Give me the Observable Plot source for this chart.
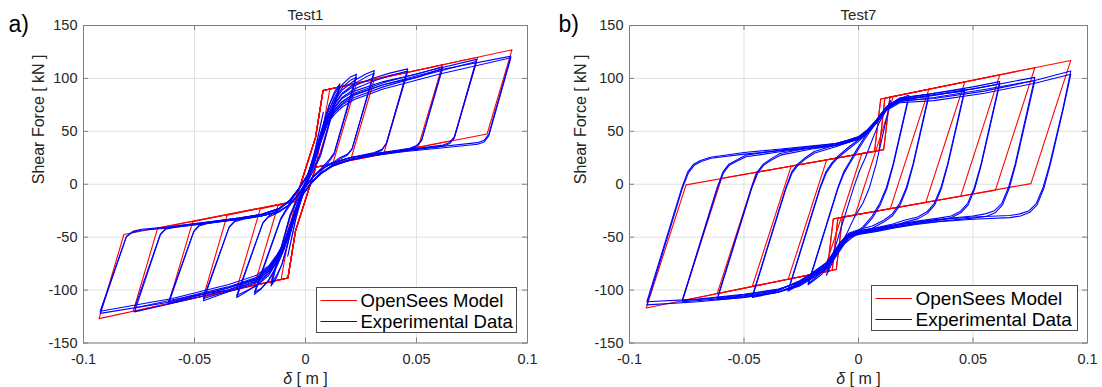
<!DOCTYPE html>
<html>
<head>
<meta charset="utf-8">
<script src="https://cdn.jsdelivr.net/npm/d3@7"></script>
<script src="https://cdn.jsdelivr.net/npm/@observablehq/plot@0.6"></script>
<style>
html, body { margin: 0; padding: 0; background: #fff; }
#chart { position: relative; width: 1102px; height: 387px; overflow: hidden; font-family: "Liberation Sans", Arial, Helvetica, sans-serif; }
#chart > svg { position: absolute; top: 0; }
</style>
</head>
<body>
<div id="chart"></div>
<script>
// ---------- tick values and texts ----------
const xTicks = [-0.1, -0.05, 0, 0.05, 0.1];
const yTicks = [-150, -100, -50, 0, 50, 100, 150];
const panelTitles = ["Test1", "Test7"];
const panelLetters = ["a)", "b)"];
const yLabel = "Shear Force [ kN ]";
const xLabel = "δ [ m ]";
const legendLabels = ["OpenSees Model", "Experimental Data"];

// ---------- Test1 : OpenSees model loops [δ (m), F (kN)] ----------
const test1Model = [
 [[0.093,127],[0.0818,47.5],[0.0046,16],[-0.0045,-44],[-0.0079,-88.5],[-0.093,-127],[-0.0818,-47.5],[-0.0046,-16],[0.0045,44],[0.0079,88.5],[0.093,127]],
 [[0.0776,120],[0.0666,41.5],[0.0046,16],[-0.0045,-44],[-0.0079,-88.5],[-0.0776,-120],[-0.0666,-41.5],[-0.0046,-16],[0.0045,44],[0.0079,88.5],[0.0776,120]],
 [[0.0617,112.8],[0.0508,35.4],[0.0046,16],[-0.0045,-44],[-0.0079,-88.5],[-0.0617,-112.8],[-0.0508,-35.4],[-0.0046,-16],[0.0045,44],[0.0079,88.5],[0.0617,112.8]],
 [[0.046,106.5],[0.0353,29.3],[0.0046,16],[-0.0045,-44],[-0.0079,-88.5],[-0.046,-106.5],[-0.0353,-29.3],[-0.0046,-16],[0.0045,44],[0.0079,88.5],[0.046,106.5]],
 [[0.031,99],[0.0204,23.4],[0.0046,16],[-0.0045,-44],[-0.0079,-88.5],[-0.031,-99],[-0.0204,-23.4],[-0.0046,-16],[0.0045,44],[0.0079,88.5],[0.031,99]],
 [[0.023,95.3],[0.0124,20.3],[0.0046,16],[-0.0045,-44],[-0.0079,-88.5],[-0.023,-95.3],[-0.0124,-20.3],[-0.0046,-16],[0.0045,44],[0.0079,88.5],[0.023,95.3]],
 [[0.0155,91.9],[0.0046,16],[-0.0045,-44],[-0.0079,-88.5],[-0.0155,-91.9],[-0.0046,-16],[0.0045,44],[0.0079,88.5],[0.0155,91.9]],
 [[0.011,90],[0.0046,16],[-0.0045,-44],[-0.0079,-88.5],[-0.011,-90],[-0.0046,-16],[0.0045,44],[0.0079,88.5],[0.011,90]]
];

// ---------- Test1 : experimental loops ----------
const test1Exp = [
 [[-0.0925,-120],[-0.0808,-50],[-0.078,-45.5],[-0.074,-43.5],[-0.06,-41],[-0.045,-37],[-0.03,-33],[-0.02,-30],[-0.012,-26],[-0.007,-19],[-0.003,-9],[0.001,4],[0.004,20],[0.007,40],[0.0097,56],[0.013,68],[0.0165,76],[0.022,84],[0.035,94],[0.06,108],[0.0925,121],[0.0826,47.5],[0.0805,41.5],[0.0775,39.3],[0.06,35.5],[0.045,32.5],[0.03,28.5],[0.02,25],[0.012,20],[0.007,14],[0.003,6],[-0.001,-5],[-0.004,-20],[-0.007,-38],[-0.0097,-55],[-0.013,-67],[-0.0165,-77],[-0.022,-86],[-0.035,-95],[-0.06,-108],[-0.0925,-120]],
 [[-0.0925,-122],[-0.0806,-49],[-0.0778,-44.5],[-0.0738,-42.5],[-0.06,-40],[-0.045,-36],[-0.03,-32],[-0.02,-29],[-0.012,-24],[-0.007,-16],[-0.003,-5],[0.001,8],[0.004,24],[0.007,43],[0.0097,57],[0.013,66],[0.0165,73],[0.022,80],[0.035,90],[0.06,104],[0.0925,119.5],[0.0826,46],[0.0805,40],[0.0775,37.8],[0.06,34],[0.045,31],[0.03,27],[0.02,23.5],[0.012,18],[0.007,11],[0.003,3],[-0.001,-8],[-0.004,-23],[-0.007,-40],[-0.0097,-56],[-0.013,-69],[-0.0165,-79],[-0.022,-89],[-0.035,-98],[-0.06,-111],[-0.0925,-122]],
 [[-0.077,-117],[-0.0655,-48],[-0.063,-42.5],[-0.059,-40.5],[-0.045,-37],[-0.03,-33],[-0.02,-30],[-0.012,-26],[-0.007,-19],[-0.003,-9],[0.001,4],[0.004,21],[0.007,41],[0.0097,57],[0.013,70],[0.0165,78],[0.022,86],[0.035,96],[0.055,107],[0.077,118],[0.0671,45],[0.065,39.5],[0.062,37],[0.045,32.5],[0.03,28.5],[0.02,25],[0.012,20],[0.007,14],[0.003,6],[-0.001,-5],[-0.004,-21],[-0.007,-39],[-0.0097,-56],[-0.013,-68],[-0.0165,-78],[-0.022,-88],[-0.035,-97],[-0.055,-107],[-0.077,-117]],
 [[-0.077,-120.6],[-0.0653,-47],[-0.0628,-41.5],[-0.0588,-39.5],[-0.045,-36],[-0.03,-32],[-0.02,-28.5],[-0.012,-23],[-0.007,-15],[-0.003,-4],[0.001,9],[0.004,25],[0.007,44],[0.0097,58],[0.013,68],[0.0165,75],[0.022,82],[0.035,92],[0.055,104],[0.077,116],[0.0671,44],[0.065,38.5],[0.062,36],[0.045,31.5],[0.03,27],[0.02,23],[0.012,17],[0.007,10],[0.003,2],[-0.001,-9],[-0.004,-24],[-0.007,-41],[-0.0097,-57],[-0.013,-70],[-0.0165,-80],[-0.022,-90],[-0.035,-100],[-0.055,-110],[-0.077,-120.6]],
 [[-0.0617,-113],[-0.0504,-45],[-0.048,-39.5],[-0.044,-37],[-0.03,-33],[-0.02,-30],[-0.012,-26],[-0.007,-19],[-0.003,-9],[0.001,4],[0.004,21],[0.007,42],[0.0097,59],[0.013,72],[0.0165,81],[0.022,88],[0.035,97],[0.05,104],[0.0617,111],[0.0524,42],[0.05,36.5],[0.047,34],[0.03,28.5],[0.02,25],[0.012,20],[0.007,14],[0.003,6],[-0.001,-5],[-0.004,-21],[-0.007,-40],[-0.0097,-57],[-0.013,-70],[-0.0165,-80],[-0.022,-90],[-0.035,-98],[-0.05,-106],[-0.0617,-113]],
 [[-0.0617,-111],[-0.0502,-44],[-0.0478,-38.5],[-0.0438,-36],[-0.03,-32],[-0.02,-28.5],[-0.012,-23],[-0.007,-15],[-0.003,-4],[0.001,9],[0.004,25],[0.007,45],[0.0097,60],[0.013,70],[0.0165,78],[0.022,85],[0.035,94],[0.05,101],[0.0617,109],[0.0522,41],[0.0498,35.5],[0.0468,33],[0.03,27],[0.02,23],[0.012,17],[0.007,10],[0.003,2],[-0.001,-9],[-0.004,-24],[-0.007,-42],[-0.0097,-58],[-0.013,-71],[-0.0165,-82],[-0.022,-92],[-0.035,-100],[-0.05,-105],[-0.0617,-111]],
 [[-0.046,-110],[-0.0345,-41],[-0.032,-35.5],[-0.028,-33],[-0.02,-30],[-0.012,-26],[-0.007,-19],[-0.003,-9],[0.001,4],[0.004,22],[0.007,43],[0.0097,61],[0.013,75],[0.0165,85],[0.022,93],[0.03,100],[0.038,105],[0.046,109],[0.0365,39],[0.0345,33],[0.031,30],[0.02,25],[0.012,20],[0.007,14],[0.003,6],[-0.001,-5],[-0.004,-22],[-0.007,-41],[-0.0097,-58],[-0.013,-71],[-0.0165,-82],[-0.022,-91],[-0.03,-98],[-0.038,-104],[-0.046,-110]],
 [[-0.046,-108],[-0.0343,-40],[-0.0318,-34.5],[-0.0278,-32],[-0.02,-28.5],[-0.012,-23],[-0.007,-15],[-0.003,-4],[0.001,9],[0.004,26],[0.007,46],[0.0097,62],[0.013,73],[0.0165,82],[0.022,90],[0.03,97],[0.038,102.5],[0.046,107],[0.0363,38],[0.0343,32],[0.0308,29],[0.02,23],[0.012,17],[0.007,10],[0.003,2],[-0.001,-9],[-0.004,-25],[-0.007,-43],[-0.0097,-59],[-0.013,-73],[-0.0165,-84],[-0.022,-93],[-0.03,-99],[-0.038,-103],[-0.046,-108]],
 [[-0.031,-107],[-0.0193,-37],[-0.017,-31.5],[-0.013,-27.5],[-0.007,-19],[-0.003,-9],[0.001,4],[0.004,23],[0.007,45],[0.0097,63],[0.013,78],[0.0165,89],[0.022,98],[0.027,104],[0.031,107.4],[0.0211,34],[0.019,28.5],[0.0155,25],[0.012,20],[0.007,14],[0.003,6],[-0.001,-5],[-0.004,-23],[-0.007,-42],[-0.0097,-59],[-0.013,-73],[-0.0165,-84],[-0.022,-95],[-0.027,-102],[-0.031,-107]],
 [[-0.031,-105],[-0.0191,-36],[-0.0168,-30.5],[-0.0128,-25],[-0.007,-15],[-0.003,-4],[0.001,9],[0.004,27],[0.007,48],[0.0097,64],[0.013,76],[0.0165,86],[0.022,95],[0.027,101],[0.031,105],[0.0209,33],[0.0188,27.5],[0.0153,23.5],[0.012,18],[0.007,10],[0.003,2],[-0.001,-9],[-0.004,-26],[-0.007,-44],[-0.0097,-60],[-0.013,-74],[-0.0165,-86],[-0.022,-96],[-0.027,-101],[-0.031,-105]],
 [[-0.023,-104],[-0.0113,-34],[-0.009,-26],[-0.006,-17],[-0.003,-9],[0.001,4],[0.004,24],[0.007,47],[0.0097,66],[0.013,82],[0.0165,94],[0.02,101],[0.023,104],[0.013,30],[0.011,24],[0.008,17],[0.003,6],[-0.001,-5],[-0.004,-24],[-0.007,-44],[-0.0097,-61],[-0.013,-77],[-0.0165,-90],[-0.02,-99],[-0.023,-104]],
 [[-0.023,-102],[-0.0111,-32],[-0.0088,-24],[-0.006,-14],[-0.003,-5],[0.001,9],[0.004,28],[0.007,50],[0.0097,67],[0.013,80],[0.0165,91],[0.02,98],[0.023,101],[0.0128,28],[0.0108,22],[0.0078,14],[0.003,2],[-0.001,-9],[-0.004,-27],[-0.007,-46],[-0.0097,-62],[-0.013,-78],[-0.0165,-91],[-0.02,-98.5],[-0.023,-102]],
 [[-0.0155,-96],[-0.007,-30],[-0.004,-17],[-0.001,-5],[0.002,8],[0.005,30],[0.008,55],[0.0105,74],[0.013,87],[0.0155,95],[0.007,30],[0.004,17],[0.001,5],[-0.002,-8],[-0.005,-31],[-0.008,-56],[-0.0105,-75],[-0.013,-88],[-0.0155,-96]],
 [[-0.0155,-94],[-0.0068,-28],[-0.0038,-14],[-0.0008,-1],[0.0022,12],[0.0052,34],[0.0082,58],[0.0107,75],[0.013,85],[0.0155,93],[0.0068,27],[0.0038,14],[0.0008,2],[-0.0022,-11],[-0.0052,-34],[-0.0082,-58],[-0.0107,-76],[-0.013,-86],[-0.0155,-94]],
 [[-0.008,-68],[-0.004,-30],[-0.001,-8],[0.002,10],[0.005,38],[0.008,68],[0.004,30],[0.001,8],[-0.002,-10],[-0.005,-38],[-0.008,-68]]
];

// ---------- Test7 : OpenSees model loops ----------
const test7Model = [
 [[0.0927,117],[0.0753,0.6],[-0.007,-31],[-0.0097,-80.5],[-0.0927,-117],[-0.0753,-0.6],[0.007,31],[0.0097,80.5],[0.0927,117]],
 [[0.077,110.1],[0.0598,-5.6],[-0.007,-31],[-0.0097,-80.5],[-0.077,-110.1],[-0.0598,5.6],[0.007,31],[0.0097,80.5],[0.077,110.1]],
 [[0.0617,103.4],[0.0446,-11.4],[-0.009,-31.9],[-0.0115,-81.3],[-0.0617,-103.4],[-0.0446,11.4],[0.009,31.9],[0.0115,81.3],[0.0617,103.4]],
 [[0.0464,96.6],[0.0294,-17.2],[-0.009,-31.9],[-0.0115,-81.3],[-0.0464,-96.6],[-0.0294,17.2],[0.009,31.9],[0.0115,81.3],[0.0464,96.6]],
 [[0.0307,89.7],[0.0139,-23.1],[-0.011,-32.7],[-0.0137,-82.3],[-0.0307,-89.7],[-0.0139,23.1],[0.011,32.7],[0.0137,82.3],[0.0307,89.7]],
 [[0.0152,83],[-0.0015,-29.3],[-0.011,-32.7],[-0.0137,-82.3],[-0.0152,-83],[0.0015,29.3],[0.011,32.7],[0.0137,82.3],[0.0152,83]]
];

// ---------- Test7 : experimental loops ----------
const test7Exp = [
 [[-0.0924,-111],[-0.0771,-3],[-0.0745,12],[-0.072,19],[-0.069,22.5],[-0.0647,25.5],[-0.05,30],[-0.035,33],[-0.021,36],[-0.01,38.5],[-0.005,41],[0,44],[0.0036,50],[0.008,60],[0.0123,72],[0.018,79],[0.033,81],[0.055,88],[0.077,98],[0.0927,107],[0.0893,72],[0.0835,19],[0.0806,-3],[0.0777,-18],[0.0745,-25],[0.0705,-28],[0.066,-29.5],[0.05,-31],[0.035,-33.5],[0.025,-36],[0.015,-39.5],[0.008,-42.5],[0,-45.5],[-0.004,-48],[-0.008,-58],[-0.014,-77],[-0.021,-87],[-0.0255,-93],[-0.035,-99],[-0.05,-104],[-0.07,-108.5],[-0.0924,-111]],
 [[-0.0924,-114],[-0.0768,-3],[-0.0742,11],[-0.0717,18],[-0.0687,21.5],[-0.0644,24.5],[-0.05,28.5],[-0.035,31.5],[-0.021,34.5],[-0.01,37],[-0.005,39.5],[0,42.5],[0.0036,48],[0.008,58],[0.0123,70],[0.018,77],[0.033,79],[0.055,86],[0.077,95.5],[0.0927,104],[0.0895,72],[0.0838,19],[0.0809,-4],[0.078,-19.5],[0.0748,-26.5],[0.0708,-30],[0.066,-31.5],[0.05,-33],[0.035,-35.5],[0.025,-38],[0.015,-41.5],[0.008,-44.5],[0,-47.5],[-0.004,-50.5],[-0.008,-61],[-0.014,-80],[-0.021,-90],[-0.0255,-96],[-0.035,-102],[-0.05,-107],[-0.07,-111],[-0.0924,-114]],
 [[-0.077,-110],[-0.0617,-3],[-0.0591,12],[-0.0566,19],[-0.0536,22.5],[-0.0493,27.5],[-0.035,32],[-0.021,35.5],[-0.01,38.5],[-0.005,41.5],[0,45],[0.0036,51],[0.008,61],[0.0123,73],[0.018,80],[0.033,84],[0.055,92],[0.077,101],[0.0684,19],[0.0655,-3],[0.0626,-18],[0.0594,-25],[0.0554,-28],[0.05,-30],[0.035,-33],[0.025,-35.5],[0.015,-39],[0.008,-42],[0,-45],[-0.004,-47.5],[-0.008,-57],[-0.014,-76],[-0.021,-86],[-0.0255,-92],[-0.035,-99.5],[-0.05,-104.5],[-0.065,-108],[-0.077,-110]],
 [[-0.077,-111],[-0.0615,-3],[-0.0589,11],[-0.0564,18],[-0.0534,21.5],[-0.0491,26],[-0.035,30.5],[-0.021,34],[-0.01,37],[-0.005,40],[0,43.5],[0.0036,49.5],[0.008,59.5],[0.0123,71],[0.018,78],[0.033,82],[0.055,89.5],[0.077,98],[0.0687,19],[0.0658,-4],[0.0629,-19.5],[0.0597,-27],[0.0557,-30.5],[0.05,-32],[0.035,-35],[0.025,-37.5],[0.015,-41],[0.008,-44],[0,-47],[-0.004,-50],[-0.008,-60],[-0.014,-79],[-0.021,-89],[-0.0255,-95],[-0.035,-101.5],[-0.05,-106],[-0.065,-109],[-0.077,-111]],
 [[-0.0617,-108],[-0.0467,-3],[-0.0441,12],[-0.0416,19],[-0.0386,23.5],[-0.0343,29],[-0.021,34.5],[-0.01,38],[-0.005,41],[0,44.5],[0.0036,50.5],[0.008,61],[0.0123,73.5],[0.018,80.5],[0.033,86],[0.05,92],[0.0617,97],[0.0535,19],[0.0506,-3],[0.0477,-18],[0.0445,-25.5],[0.0405,-30],[0.035,-32],[0.025,-35],[0.015,-38.5],[0.008,-41.5],[0,-44.5],[-0.004,-47],[-0.008,-56],[-0.014,-75],[-0.021,-85],[-0.0255,-91.5],[-0.035,-100],[-0.05,-105.5],[-0.0617,-108]],
 [[-0.0617,-109],[-0.0465,-3],[-0.0439,11],[-0.0414,18],[-0.0384,22.5],[-0.0341,27.5],[-0.021,33],[-0.01,36.5],[-0.005,39.5],[0,43],[0.0036,49],[0.008,59.5],[0.0123,71.5],[0.018,79],[0.033,84.5],[0.05,90],[0.0617,95],[0.0537,19],[0.0508,-4],[0.0479,-19.5],[0.0447,-27],[0.0407,-31.5],[0.035,-34],[0.025,-37],[0.015,-40.5],[0.008,-43.5],[0,-46.5],[-0.004,-49.5],[-0.008,-59],[-0.014,-78],[-0.021,-88],[-0.0255,-94],[-0.035,-102],[-0.05,-107],[-0.0617,-109]],
 [[-0.0464,-106],[-0.0317,-3],[-0.0291,12],[-0.0266,19],[-0.0236,24.5],[-0.0193,31],[-0.01,37],[-0.005,40.5],[0,44],[0.0036,50],[0.008,61],[0.0123,73.5],[0.018,81],[0.033,86],[0.0464,90],[0.0389,19],[0.036,-3],[0.0331,-18],[0.0299,-26],[0.0259,-31],[0.02,-34],[0.015,-37.5],[0.008,-41],[0,-44],[-0.004,-46.5],[-0.008,-55.5],[-0.014,-74.5],[-0.021,-85],[-0.0255,-91],[-0.035,-100.5],[-0.0464,-106]],
 [[-0.0464,-107],[-0.0315,-3],[-0.0289,11],[-0.0264,18],[-0.0234,23.5],[-0.0191,29.5],[-0.01,35.5],[-0.005,39],[0,42.5],[0.0036,48.5],[0.008,59.5],[0.0123,71.5],[0.018,79.5],[0.033,84.5],[0.0464,88],[0.0391,19],[0.0362,-4],[0.0333,-19.5],[0.0301,-27.5],[0.0261,-32.5],[0.02,-36],[0.015,-39.5],[0.008,-43],[0,-46],[-0.004,-49],[-0.008,-58.5],[-0.014,-77.5],[-0.021,-88],[-0.0255,-93.5],[-0.035,-102],[-0.0464,-107]],
 [[-0.0307,-100],[-0.0168,-3],[-0.0142,12],[-0.0117,20],[-0.0087,27],[-0.0044,35],[0,42],[0.0036,49],[0.008,60.5],[0.0123,73],[0.018,81.5],[0.025,83.5],[0.0307,85],[0.0238,19],[0.0209,-3],[0.018,-18],[0.0148,-28],[0.011,-34],[0.006,-39.5],[0,-43],[-0.004,-46],[-0.008,-55],[-0.014,-74],[-0.021,-85],[-0.0255,-92],[-0.0307,-100]],
 [[-0.0307,-101],[-0.0166,-3],[-0.014,11],[-0.0115,19],[-0.0085,26],[-0.0042,33.5],[0,40.5],[0.0036,47.5],[0.008,59],[0.0123,71],[0.018,79.5],[0.025,81.5],[0.0307,83],[0.024,19],[0.0211,-4],[0.0182,-19.5],[0.015,-29.5],[0.0112,-35.5],[0.006,-41.5],[0,-45],[-0.004,-48.5],[-0.008,-58],[-0.014,-77],[-0.021,-88],[-0.0255,-94.5],[-0.0307,-101]],
 [[-0.022,-94],[-0.009,-3],[-0.0064,12],[-0.0039,21],[-0.001,32],[0.0025,44],[0.006,55],[0.01,67],[0.014,76],[0.018,81],[0.022,84],[0.0151,19],[0.0122,-3],[0.0093,-18],[0.006,-30],[0.002,-40],[-0.002,-47],[-0.006,-54],[-0.011,-70],[-0.016,-83],[-0.022,-94]],
 [[-0.022,-95],[-0.0088,-3],[-0.0062,11],[-0.0037,20],[-0.0008,30.5],[0.0027,42.5],[0.0062,53.5],[0.0102,65.5],[0.014,74],[0.018,79],[0.022,82],[0.0153,19],[0.0124,-4],[0.0095,-19.5],[0.0062,-31.5],[0.0022,-41.5],[-0.002,-49],[-0.006,-56],[-0.011,-72],[-0.016,-85],[-0.022,-95]],
 [[-0.014,-86],[-0.0021,-3],[0.0005,13],[0.003,25],[0.006,42],[0.009,58],[0.012,70],[0.014,79],[0.0077,19],[0.0048,-3],[0.0019,-18],[-0.002,-32],[-0.005,-46],[-0.008,-58],[-0.011,-72],[-0.014,-86]]
];

// ---------- drawing ----------
const FONT = "'Liberation Sans', Arial, Helvetica, sans-serif";
const textColor = "#262626";
const frameColor = "#7f7f7f";
const gridColor = "#e1e1e1";

function toRows(loops) {
  return loops.flatMap((loop, i) => loop.map(([x, f]) => ({x, f, loop: i})));
}

function makePanel(cfg) {
  const W = 551, H = 387, mt = 25, mb = 44.5;
  const pw = W - cfg.marginLeft - cfg.marginRight;
  const ph = H - mt - mb;
  const tl = 5;
  const svg = Plot.plot({
    width: W, height: H,
    marginLeft: cfg.marginLeft, marginRight: cfg.marginRight, marginTop: mt, marginBottom: mb,
    x: {domain: [-0.1, 0.1], label: null},
    y: {domain: [-150, 150], label: null},
    style: {fontFamily: FONT, background: "transparent", overflow: "visible"},
    marks: [
      Plot.ruleX(xTicks, {stroke: gridColor}),
      Plot.ruleY(yTicks, {stroke: gridColor}),
      Plot.line(toRows(cfg.model), {x: "x", y: "f", z: "loop", stroke: "#ff0000", strokeWidth: 1.1}),
      Plot.line(toRows(cfg.exp), {x: "x", y: "f", z: "loop", stroke: "#0000ff", strokeWidth: 1.1, strokeLinejoin: "round"}),
      Plot.ruleX(xTicks, {insetTop: ph - tl, stroke: frameColor}),
      Plot.ruleX(xTicks, {insetBottom: ph - tl, stroke: frameColor}),
      Plot.ruleY(yTicks, {insetRight: pw - tl, stroke: frameColor}),
      Plot.ruleY(yTicks, {insetLeft: pw - tl, stroke: frameColor}),
      Plot.frame({stroke: frameColor}),
      Plot.axisX(xTicks, {tickSize: 0, tickPadding: 11, tickFormat: d => String(d), fontSize: 14.5, color: textColor, label: null}),
      Plot.axisY(yTicks, {tickSize: 0, tickPadding: 6, tickFormat: d => String(d), fontSize: 14.5, color: textColor, label: null}),
      Plot.text([cfg.title], {text: d => d, frameAnchor: "top", dy: -10, fontSize: 15, fill: textColor, lineAnchor: "middle"}),
      Plot.text([cfg.letter], {text: d => d, frameAnchor: "top-left", dx: cfg.letterDx, dy: -1, fontSize: 23, fill: "#000", textAnchor: "start", lineAnchor: "middle"}),
      Plot.text([yLabel], {text: d => d, frameAnchor: "left", rotate: -90, dx: cfg.ylabelDx, fontSize: 16, fill: textColor, lineAnchor: "middle"}),
      Plot.text([xLabel], {text: d => d, frameAnchor: "bottom", dy: 35.5, fontSize: 16, fill: textColor, lineAnchor: "middle"})
    ]
  });
  svg.style.left = cfg.left + "px";
  // italic delta in the x label
  svg.querySelectorAll("text").forEach(t => {
    if (t.textContent === xLabel) {
      t.textContent = "";
      const ns = "http://www.w3.org/2000/svg";
      const a = document.createElementNS(ns, "tspan");
      a.setAttribute("font-style", "italic");
      a.textContent = "δ";
      const b = document.createElementNS(ns, "tspan");
      b.textContent = " [ m ]";
      t.appendChild(a); t.appendChild(b);
    }
  });
  return svg;
}

function makeLegend(left, top, w, h, fontSize) {
  const s = d3.create("svg").attr("width", w).attr("height", h)
    .style("position", "absolute").style("left", left + "px").style("top", top + "px")
    .style("font-family", FONT);
  s.append("rect").attr("x", 0.5).attr("y", 0.5).attr("width", w - 1).attr("height", h - 1)
    .attr("fill", "#fff").attr("stroke", "#4a4a4a").attr("stroke-width", 1);
  const colors = ["#ff0000", "#0000ff"];
  const rowsY = [13.5, 34.5];
  legendLabels.forEach((lab, i) => {
    s.append("line").attr("x1", 4.5).attr("x2", 41).attr("y1", rowsY[i]).attr("y2", rowsY[i])
      .attr("stroke", colors[i]).attr("stroke-width", 1.2);
    s.append("text").attr("x", 44.5).attr("y", rowsY[i]).attr("dy", "0.35em")
      .attr("font-size", fontSize).attr("fill", "#000").text(lab);
  });
  return s.node();
}

const chart = document.getElementById("chart");
chart.appendChild(makePanel({model: test1Model, exp: test1Exp, title: panelTitles[0], letter: panelLetters[0],
  left: 0, marginLeft: 83, marginRight: 24, ylabelDx: -45, letterDx: -75}));
chart.appendChild(makePanel({model: test7Model, exp: test7Exp, title: panelTitles[1], letter: panelLetters[1],
  left: 551, marginLeft: 78, marginRight: 15, ylabelDx: -49, letterDx: -71}));
chart.appendChild(makeLegend(316, 287, 201, 46, 18.5));
chart.appendChild(makeLegend(871, 285, 207, 46, 19));
</script>
</body>
</html>
